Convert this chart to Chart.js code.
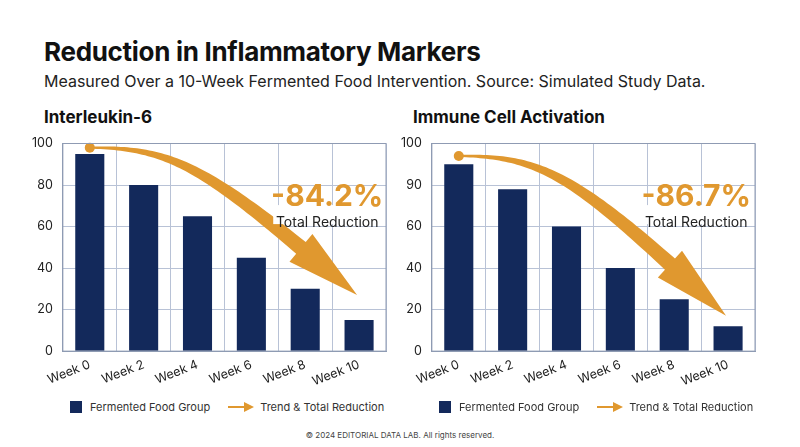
<!DOCTYPE html>
<html><head><meta charset="utf-8">
<script src="https://cdn.jsdelivr.net/npm/chart.js@4/dist/chart.umd.min.js"></script>
<style>
body{margin:0;width:800px;height:447px;background:#fff;font-family:Inter,"Noto Sans",sans-serif;color:#111;position:relative;overflow:hidden}
.t{position:absolute;left:44px;top:36px;font-size:26px;font-weight:700;letter-spacing:-0.3px}
.s{position:absolute;left:44px;top:71px;font-size:16px;color:#222}
.h{position:absolute;top:107px;font-size:17px;font-weight:700}
.c{position:absolute;top:126px;width:370px;height:269px}
.lg{position:absolute;top:400px;font-size:11px;color:#333;display:flex;align-items:center}
.sq{display:inline-block;width:12px;height:12px;background:#13295b;margin-right:8px}
.ar{margin:0 6px 0 18px}
.f{position:absolute;left:0;width:800px;top:430px;text-align:center;font-size:8px;color:#444}
</style></head><body>
<div class="t">Reduction in Inflammatory Markers</div>
<div class="s">Measured Over a 10-Week Fermented Food Intervention. Source: Simulated Study Data.</div>
<div class="h" style="left:44px">Interleukin-6</div>
<div class="h" style="left:413px">Immune Cell Activation</div>
<div class="c" style="left:22px"><canvas id="c1"></canvas></div>
<div class="c" style="left:391px"><canvas id="c2"></canvas></div>
<div class="lg" style="left:70px"><span class="sq"></span>Fermented Food Group<svg class="ar" width="26" height="10"><line x1="0" y1="5" x2="18" y2="5" stroke="#e0982f" stroke-width="2"/><polygon points="16,0 26,5 16,10" fill="#e0982f"/></svg>Trend &amp; Total Reduction</div>
<div class="lg" style="left:439px"><span class="sq"></span>Fermented Food Group<svg class="ar" width="26" height="10"><line x1="0" y1="5" x2="18" y2="5" stroke="#e0982f" stroke-width="2"/><polygon points="16,0 26,5 16,10" fill="#e0982f"/></svg>Trend &amp; Total Reduction</div>
<div class="f">© 2024 EDITORIAL DATA LAB. All rights reserved.</div>
<script>
const weeks = ['Week 0','Week 2','Week 4','Week 6','Week 8','Week 10'];
const il6 = [95, 80, 65, 45, 30, 15];
const immune = [90, 78, 60, 40, 25, 12];
const ticks1 = ['0','20','40','60','80','100'];
const ticks2 = ['0','20','40','60','90','100'];
const trend1 = [98, 27];
const trend2 = [94, 17];
const pct1 = '-84.2%';
const pct2 = '-86.7%';
const orange = '#e0982f';

function arrowPlugin(trend, pct) {
  return {
    id: 'arrow',
    afterDatasetsDraw(chart) {
      const x = chart.scales.x, y = chart.scales.y, ctx = chart.ctx;
      ctx.save();
      // curved arrow (cubic)
      const x0 = x.getPixelForValue(0), y0 = y.getPixelForValue(trend[0]);
      const x3 = x.getPixelForValue(5) - 2, y3 = y.getPixelForValue(trend[1]);
      const c1x = x.getPixelForValue(1.6), c1y = y0;
      const c2x = x.getPixelForValue(2.2), c2y = y.getPixelForValue(trend[0] - 10);
      const pt = t => {
        const u = 1 - t;
        return [u*u*u*x0 + 3*u*u*t*c1x + 3*u*t*t*c2x + t*t*t*x3,
                u*u*u*y0 + 3*u*u*t*c1y + 3*u*t*t*c2y + t*t*t*y3];
      };
      const end = 0.86, L = [], R = [];
      for (let i = 0; i <= 60; i++) {
        const t = i / 60 * end, p = pt(t), q = pt(t + 0.001);
        const dx = q[0]-p[0], dy = q[1]-p[1], d = Math.hypot(dx, dy);
        const w = 1 + 6.5 * t / end;
        L.push([p[0] - dy/d*w, p[1] + dx/d*w]); R.push([p[0] + dy/d*w, p[1] - dx/d*w]);
      }
      const pe = pt(end), pq = pt(end + 0.001);
      let dx = pq[0]-pe[0], dy = pq[1]-pe[1], d = Math.hypot(dx, dy); dx/=d; dy/=d;
      ctx.fillStyle = orange;
      ctx.beginPath();
      L.forEach((p, i) => i ? ctx.lineTo(p[0], p[1]) : ctx.moveTo(p[0], p[1]));
      ctx.lineTo(pe[0] - dy*18, pe[1] + dx*18);
      ctx.lineTo(x3, y3);
      ctx.lineTo(pe[0] + dy*18, pe[1] - dx*18);
      R.reverse().forEach(p => ctx.lineTo(p[0], p[1]));
      ctx.closePath(); ctx.fill();
      ctx.beginPath(); ctx.arc(x0, y0, 5, 0, Math.PI*2); ctx.fill();
      // annotation text
      ctx.textAlign = 'center';
      const tx = x.getPixelForValue(4) + 22;
      ctx.fillStyle = '#fff';
      ctx.fillRect(tx - 54, y.getPixelForValue(66) - 9, 108, 19);
      ctx.font = '700 30px Inter';
      ctx.fillStyle = orange;
      ctx.fillText(pct, tx, y.getPixelForValue(70));
      ctx.font = '14px Inter';
      ctx.fillStyle = '#222';
      ctx.fillText('Total Reduction', tx, y.getPixelForValue(60));
      ctx.restore();
    }
  };
}

function make(id, data, labels, trend, pct) {
  new Chart(document.getElementById(id), {
    type: 'bar',
    data: { labels: weeks, datasets: [{ data: data, backgroundColor: '#13295b', categoryPercentage: 0.9, barPercentage: 0.6 }] },
    options: {
      responsive: true, maintainAspectRatio: false, animation: false,
      layout: { padding: { right: 6, top: 10 } },
      plugins: { legend: { display: false }, tooltip: { enabled: false } },
      scales: {
        x: { grid: { color: '#b8c2d6', offset: true, drawTicks: false }, border: { color: '#8f9bb3' },
             ticks: { color: '#222', font: { size: 12.5, family: 'Inter' }, padding: 6 } },
        y: { min: 0, max: 100, grid: { color: '#b8c2d6', drawTicks: false }, border: { color: '#8f9bb3' },
             ticks: { stepSize: 20, padding: 10, color: '#222', font: { size: 12.5, family: 'Inter' },
                      callback: (v, i) => labels[i] } }
      }
    },
    plugins: [arrowPlugin(trend, pct), { id: 'frame', afterDraw(c) { const a = c.chartArea, g = c.ctx; g.save(); g.strokeStyle = '#8f9bb3'; g.strokeRect(a.left, a.top, a.width, a.height); g.restore(); } }]
  });
}
make('c1', il6, ticks1, trend1, pct1);
make('c2', immune, ticks2, trend2, pct2);
</script>
</body></html>
